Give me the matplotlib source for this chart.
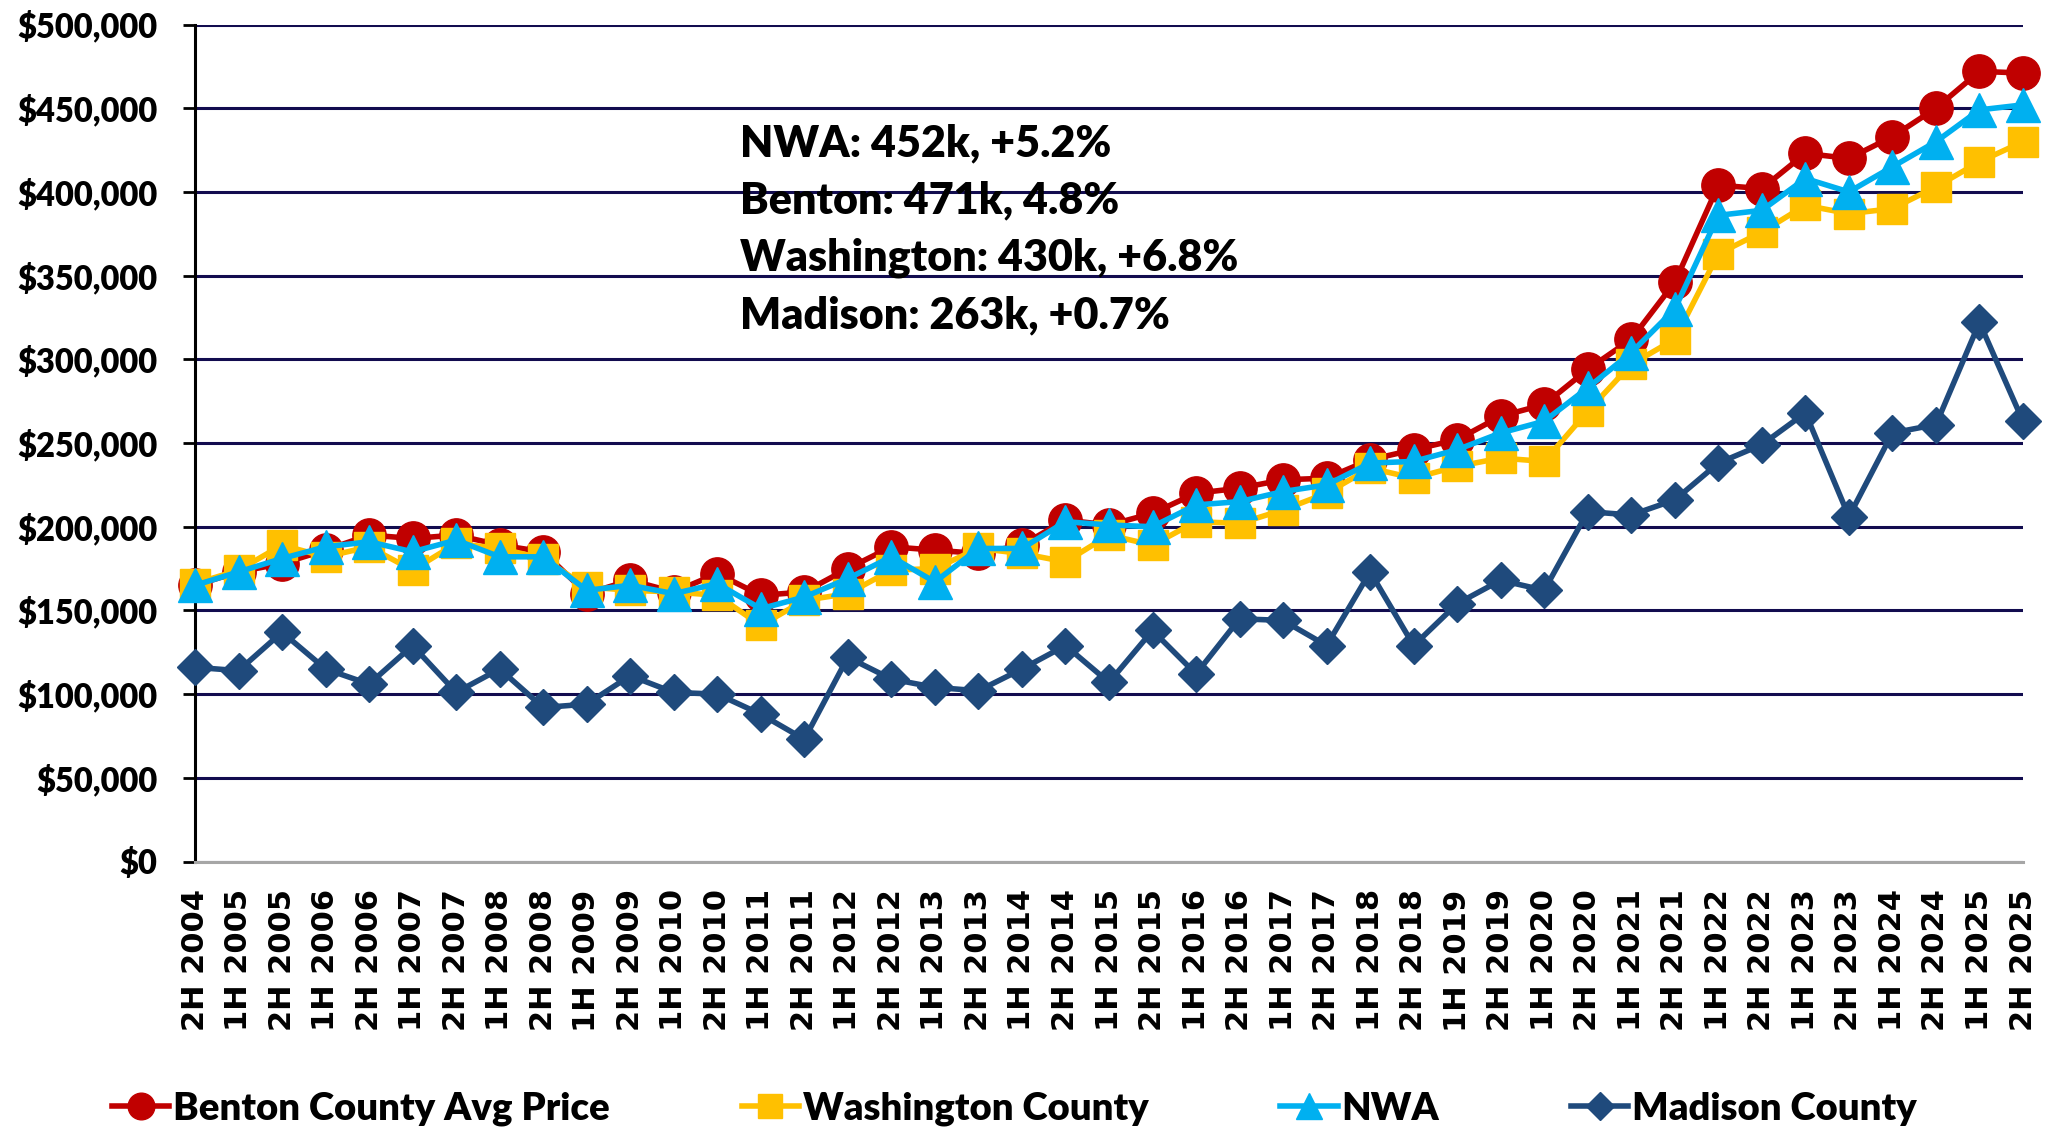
import numpy as np
import matplotlib.pyplot as plt
from matplotlib.ticker import MultipleLocator, FuncFormatter

# half-year periods on the x axis
periods = [
    "2H 2004", "1H 2005", "2H 2005", "1H 2006", "2H 2006", "1H 2007", "2H 2007",
    "1H 2008", "2H 2008", "1H 2009", "2H 2009", "1H 2010", "2H 2010", "1H 2011",
    "2H 2011", "1H 2012", "2H 2012", "1H 2013", "2H 2013", "1H 2014", "2H 2014",
    "1H 2015", "2H 2015", "1H 2016", "2H 2016", "1H 2017", "2H 2017", "1H 2018",
    "2H 2018", "1H 2019", "2H 2019", "1H 2020", "2H 2020", "1H 2021", "2H 2021",
    "1H 2022", "2H 2022", "1H 2023", "2H 2023", "1H 2024", "2H 2024", "1H 2025",
    "2H 2025",
]

# average sale price, dollars
benton = [
    165000, 173000, 178000, 186000, 195000, 193000, 195000, 189000, 185000, 160000,
    168000, 161000, 172000, 159000, 161000, 175000, 188000, 186000, 184000, 189000,
    204000, 201000, 208000, 220000, 223000, 228000, 229000, 240000, 246000, 252000,
    266000, 273000, 294000, 312000, 346000, 404000, 402000, 423000, 420000, 433000,
    450000, 472000, 471000,
]
washington = [
    166000, 174000, 189000, 182000, 188000, 174000, 190000, 187000, 181000, 164000,
    162000, 161000, 159000, 141000, 156000, 160000, 174000, 175000, 187000, 184000,
    179000, 195000, 189000, 203000, 202000, 210000, 220000, 235000, 229000, 236000,
    241000, 239000, 269000, 297000, 312000, 363000, 376000, 392000, 387000, 390000,
    403000, 418000, 430000,
]
nwa = [
    165000, 173000, 181000, 188000, 191000, 185000, 192000, 182000, 182000, 162000,
    165000, 160000, 166000, 151000, 158000, 169000, 182000, 167000, 187000, 187000,
    203000, 201000, 200000, 213000, 215000, 221000, 225000, 238000, 239000, 246000,
    256000, 263000, 283000, 304000, 330000, 386000, 389000, 408000, 400000, 415000,
    430000, 449000, 452000,
]
madison = [
    116000, 114000, 137000, 115000, 106000, 129000, 101000, 115000, 92000, 94000,
    111000, 101000, 100000, 88000, 73000, 122000, 109000, 104000, 102000, 115000,
    129000, 107000, 138000, 112000, 145000, 144000, 129000, 173000, 129000, 154000,
    168000, 162000, 209000, 207000, 216000, 238000, 249000, 268000, 206000, 256000,
    261000, 322000, 263000,
]

notes = [
    "NWA: 452k, +5.2%",
    "Benton: 471k, 4.8%",
    "Washington: 430k, +6.8%",
    "Madison: 263k, +0.7%",
]

W, H = 2064, 1132
fig = plt.figure(figsize=(W / 100, H / 100), dpi=100)
ax = fig.add_axes([195 / W, 1 - 861.5 / H, (2023 - 195) / W, 837 / H])

x = np.arange(len(periods))
series = [
    ("Benton County Avg Price", benton, "#C00000", "o", 24),
    ("Washington County", washington, "#FFC000", "s", 22),
    ("NWA", nwa, "#00B0F0", "^", 24),
    ("Madison County", madison, "#1F4A7C", "D", 18),
]
handles = []
for i, (name, vals, color, marker, ms) in enumerate(series):
    ln, = ax.plot(x, vals, color=color, lw=4, marker=marker, ms=ms,
                  mfc=color, mec=color, mew=1, clip_on=False, zorder=3 + i,
                  label=name)
    handles.append(ln)

ax.set_xlim(0, len(periods) - 1)
ax.set_ylim(0, 500000)
ax.yaxis.set_major_locator(MultipleLocator(50000))
ax.yaxis.set_major_formatter(FuncFormatter(lambda v, p: f"${v:,.0f}"))
ax.grid(axis="y", color="#120C4F", lw=2.2)
ax.set_axisbelow(True)

for s in ["top", "right"]:
    ax.spines[s].set_visible(False)
ax.spines["left"].set_linewidth(2.2)
ax.spines["left"].set_color("black")
ax.spines["bottom"].set_linewidth(2.2)
ax.spines["bottom"].set_color("#A6A6A6")

ax.tick_params(axis="y", direction="out", length=9, width=2, pad=18)
for lbl in ax.get_yticklabels():
    lbl.set_fontfamily("Lato")
    lbl.set_fontweight("heavy")
    lbl.set_fontsize(23.5)

ax.set_xticks(x)
ax.set_xticklabels(periods, rotation=90, fontfamily="DejaVu Sans",
                   fontweight="bold", fontsize=22)
ax.tick_params(axis="x", length=0, pad=20)

# summary lines, one baseline each
for i, line in enumerate(notes):
    fig.text(740 / W, 1 - (156 + 57.5 * i) / H, line, va="baseline",
             ha="left", fontfamily="Lato", fontweight="heavy", fontsize=31)

fig.legend(handles, [h.get_label() for h in handles], loc="center left",
           bbox_to_anchor=(112 / W, 1 - 1109 / H), ncol=4, frameon=False,
           handlelength=1.5, handletextpad=0.1, columnspacing=3.45,
           borderpad=0, borderaxespad=0, markerscale=0.8,
           prop={"family": "Lato", "weight": "heavy", "size": 27.5})

fig.savefig("out.png", dpi=100)
